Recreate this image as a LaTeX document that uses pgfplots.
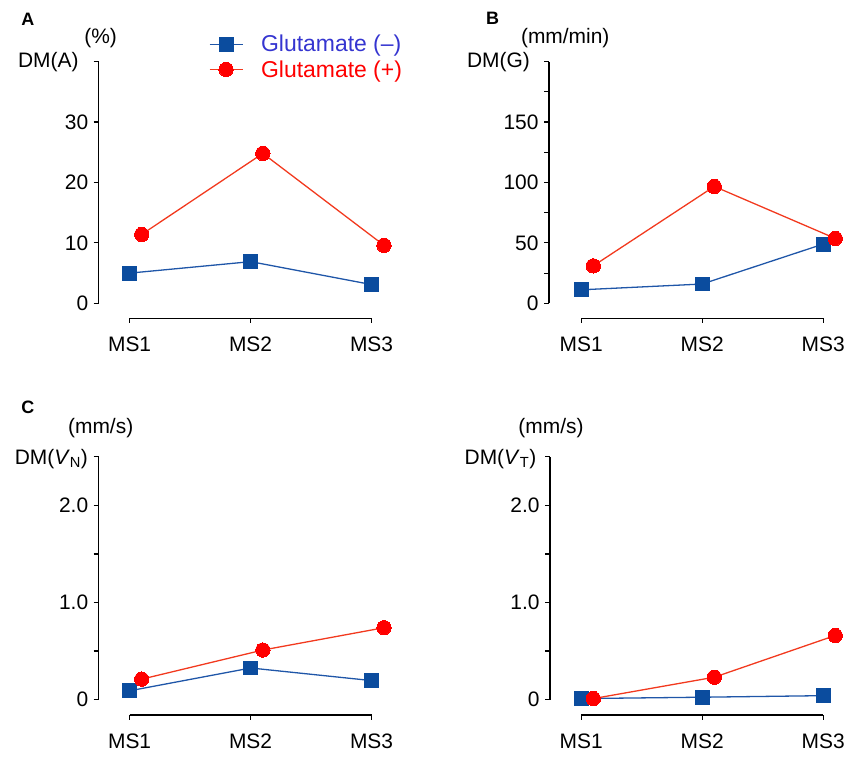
\documentclass[border=0pt]{standalone}
\usepackage{fontspec}
\setmainfont{Liberation Sans}
\usepackage{pgfplots}
\pgfplotsset{compat=1.18}
\definecolor{sqblue}{HTML}{0B4C9E}
\definecolor{lnblue}{HTML}{1F56A8}
\definecolor{txblue}{HTML}{3535D0}
\definecolor{cred}{HTML}{FF0000}
\definecolor{lnred}{HTML}{F2391E}

\pgfplotsset{
  panel/.style={
    scale only axis, anchor=south west, clip=false,
    axis y line=left, axis x line=none, y axis line style={-, line width=1.3pt},
    tick align=outside, major tick length=5pt, minor tick length=5pt,
    every tick/.style={black, line width=1.1pt},
    xtick=\empty,
    ymin=0,
    tick label style={font=\fontsize{21}{24}\selectfont},
    /pgf/number format/assume math mode=true,
    yticklabel style={xshift=-2pt},
  },
  xpanel/.style={
    scale only axis, anchor=south west, width=242.7pt, height=1pt,
    axis x line=bottom, axis y line=none, x axis line style={-, line width=1.3pt},
    xmin=0, xmax=2, ymin=0, ymax=1,
    xtick={0,1,2}, xticklabels={MS1,MS2,MS3},
    tick align=outside, major tick length=4.5pt,
    every tick/.style={black, line width=1.1pt},
    ytick=\empty,
    tick label style={font=\fontsize{21}{24}\selectfont},
    xticklabel style={yshift=-11pt},
  },
  neg/.style={lnblue, line width=1.3pt, mark=square*, mark size=7pt,
    mark options={fill=sqblue, draw=sqblue, line width=0pt}},
  pos/.style={lnred, line width=1.3pt, mark=*, mark size=7.2pt,
    mark options={fill=cred, draw=cred, line width=0pt}},
}

\begin{document}
\begin{tikzpicture}[x=1pt,y=1pt]
\path (0,0) rectangle (848,-759);

% ---- A ----
\begin{axis}[panel, at={(99pt,-304.3pt)}, width=274pt, height=242.6pt,
  xmin=-0.255, xmax=2, ymax=40,
  ytick={0,10,20,30,40}, yticklabels={0,10,20,30,{}},
  legend style={draw=none, fill=none, at={(0.392,1.019)}, anchor=west,
    font=\fontsize{23}{26}\selectfont, row sep=3pt,
    /tikz/every odd column/.append style={column sep=16pt}},
  legend cell align=left,
  legend image code/.code={\draw[mark repeat=2,mark phase=2,#1]
    plot coordinates {(0pt,0pt) (16.5pt,0pt) (33pt,0pt)};},
]
\addplot[neg] coordinates {(0,5.0) (1,6.9) (2,3.1)};
\addlegendentry{\textcolor{txblue}{Glutamate (--)}}
\addplot[pos] coordinates {(0.1,11.4) (1.1,24.8) (2.1,9.6)};
\addlegendentry{\textcolor{cred}{Glutamate (+)}}
\end{axis}
\begin{axis}[xpanel, at={(130pt,-319.3pt)}]
\end{axis}
\node at (28,-19) {\fontsize{18}{20}\selectfont\bfseries A};
\node[font=\fontsize{21}{24}\selectfont] at (101,-38) {(\%)};
\node[font=\fontsize{21}{24}\selectfont] at (48.5,-62.5) {DM(A)};

% ---- B ----
\begin{axis}[panel, at={(550.7pt,-304.3pt)}, width=275pt, height=242.6pt,
  xmin=-0.266, xmax=2, ymax=200,
  ytick={0,50,100,150,200}, yticklabels={0,50,100,150,{}},
  minor ytick={25,75,125,175},
]
\addplot[neg] coordinates {(0,11.2) (1,16.0) (2,49.0)};
\addplot[pos] coordinates {(0.1,31.0) (1.1,96.7) (2.1,53.7)};
\end{axis}
\begin{axis}[xpanel, at={(583pt,-319.3pt)}]
\end{axis}
\node at (494,-18.5) {\fontsize{18}{20}\selectfont\bfseries B};
\node[font=\fontsize{21}{24}\selectfont] at (567,-38) {(mm/min)};
\node[font=\fontsize{21}{24}\selectfont] at (500,-62.5) {DM(G)};

% ---- C ----
\begin{axis}[panel, at={(99pt,-701.7pt)}, width=274pt, height=243.4pt,
  xmin=-0.255, xmax=2, ymax=2.5,
  ytick={0,1,2,2.5}, yticklabels={0,1.0,2.0,{}},
  minor ytick={0.5,1.5},
]
\addplot[neg] coordinates {(0,0.09) (1,0.325) (2,0.195)};
\addplot[pos] coordinates {(0.1,0.21) (1.1,0.51) (2.1,0.74)};
\end{axis}
\begin{axis}[xpanel, at={(130pt,-717.3pt)}]
\end{axis}
\node at (28,-408.5) {\fontsize{18}{20}\selectfont\bfseries C};
\node[font=\fontsize{21}{24}\selectfont] at (101,-429) {(mm/s)};
\node[font=\fontsize{21}{24}\selectfont] at (51.5,-460) {DM(\textit{V}\textsubscript{N})};

% ---- D ----
\begin{axis}[panel, at={(551.7pt,-701.7pt)}, width=274pt, height=243.4pt,
  xmin=-0.258, xmax=2, ymax=2.5,
  ytick={0,1,2,2.5}, yticklabels={0,1.0,2.0,{}},
  minor ytick={0.5,1.5},
]
\addplot[neg] coordinates {(0,0.01) (1,0.024) (2,0.04)};
\addplot[pos] coordinates {(0.1,0.01) (1.1,0.23) (2.1,0.66)};
\end{axis}
\begin{axis}[xpanel, at={(583pt,-717.3pt)}]
\end{axis}
\node[font=\fontsize{21}{24}\selectfont] at (552.7,-429) {(mm/s)};
\node[font=\fontsize{21}{24}\selectfont] at (502,-460) {DM(\textit{V}\textsubscript{T})};
\end{tikzpicture}
\end{document}
